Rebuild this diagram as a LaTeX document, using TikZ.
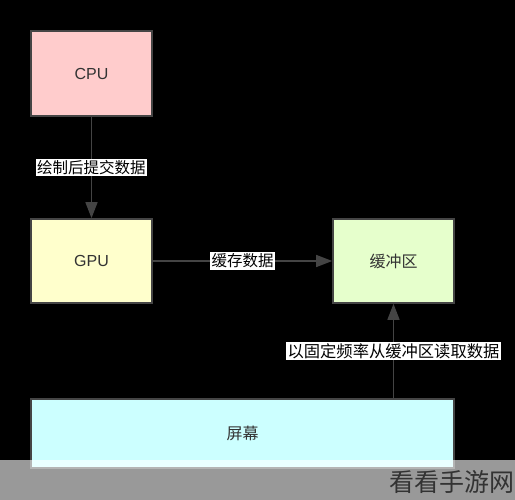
\documentclass[tikz,border=0pt]{standalone}
\usepackage{fontspec}
\setmainfont{Liberation Sans}
\newfontfamily\cjk{Noto Sans CJK SC}
\usetikzlibrary{arrows.meta}
\definecolor{cpufill}{HTML}{FFCCCC}
\definecolor{gpufill}{HTML}{FFFFCC}
\definecolor{buffill}{HTML}{E6FFCC}
\definecolor{scrfill}{HTML}{CCFFFF}
\definecolor{boxline}{HTML}{454545}
\definecolor{arrline}{HTML}{444444}
\definecolor{txt}{HTML}{333333}
\begin{document}
\begin{tikzpicture}[x=1pt,y=-1pt,
  box/.style={draw=boxline,line width=1.6pt,inner sep=0pt,text=txt,font=\fontsize{16}{19}\selectfont},
  arr/.style={draw=arrline,line width=1.4pt,-{Triangle[length=16pt,width=12pt]}},
  lbl/.style={fill=white,text=black,inner sep=1.5pt,font=\cjk\fontsize{15.5}{18}\selectfont}]
\fill[black] (0,0) rectangle (515,500);
\useasboundingbox (0,0) rectangle (515,500);
\node[box,fill=cpufill,minimum width=121pt,minimum height=85pt] (cpu) at (91.5,73.5) {CPU};
\node[box,fill=gpufill,minimum width=121pt,minimum height=84pt] (gpu) at (91.5,261) {GPU};
\node[box,fill=buffill,minimum width=121pt,minimum height=84pt] (buf) at (393.5,261) {\cjk 缓冲区};
\node[box,fill=scrfill,minimum width=423pt,minimum height=69pt] (scr) at (242.5,433.5) {\cjk 屏幕};
\draw[arr] (cpu) -- node[lbl] (l1) {绘制后提交数据} (gpu);
\draw[arr] (gpu) -- node[lbl] (l2) {缓存数据} (buf);
\draw[arr] (scr.north -| buf) -- node[lbl,font=\cjk\fontsize{16.3}{19}\selectfont] (l3) {以固定频率从缓冲区读取数据} (buf);
\fill[white,opacity=0.6] (0,460) rectangle (515,500);
\node[text=txt,inner sep=0pt,font=\cjk\fontsize{25}{28}\selectfont,anchor=east] (wm) at (515,482) {看看手游网};
\end{tikzpicture}
\end{document}
